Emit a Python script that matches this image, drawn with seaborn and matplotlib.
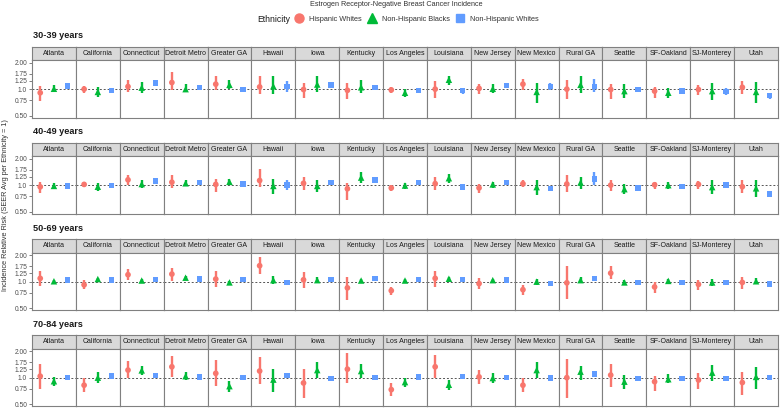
import numpy as np
import pandas as pd
import matplotlib
matplotlib.use("Agg")
import matplotlib.pyplot as plt
from matplotlib.lines import Line2D
import seaborn as sns

# ─────────────────────────────────────────────
# Data (relative risk, with 95% CI)
# ─────────────────────────────────────────────

registries = ["Atlanta", "California", "Connecticut", "Detroit Metro", "Greater GA",
              "Hawaii", "Iowa", "Kentucky", "Los Angeles", "Louisiana", "New Jersey",
              "New Mexico", "Rural GA", "Seattle", "SF-Oakland", "SJ-Monterey", "Utah"]
age_groups = ["30-39 years", "40-49 years", "50-69 years", "70-84 years"]
ethnicities = ["Hispanic Whites", "Non-Hispanic Blacks", "Non-Hispanic Whites"]

y_ticks = [0.5, 0.75, 1.0, 1.25, 1.5, 2.0]
y_tick_labels = ["0.50", "0.75", "1.0", "1.25", "1.75", "2.00"]

# 30-39 years
hw_30_est = [0.91, 1.00, 1.07, 1.19, 1.14, 1.06, 0.99, 0.97, 0.98, 1.00, 1.02, 1.14, 1.00, 0.99, 0.95, 0.99, 1.05]
hw_30_lo = [0.735, 0.91, 0.93, 0.97, 0.97, 0.87, 0.79, 0.77, 0.90, 0.79, 0.88, 0.99, 0.77, 0.78, 0.79, 0.86, 0.89]
hw_30_hi = [1.08, 1.10, 1.28, 1.57, 1.40, 1.40, 1.18, 1.18, 1.06, 1.25, 1.13, 1.31, 1.28, 1.13, 1.06, 1.11, 1.25]
nhb_30_est = [1.01, 0.93, 1.04, 1.00, 1.12, 1.08, 1.13, 1.05, 0.91, 1.28, 1.01, 0.93, 1.12, 0.95, 0.91, 0.95, 0.93]
nhb_30_lo = [0.93, 0.82, 0.91, 0.93, 1.00, 0.89, 0.93, 0.90, 0.82, 1.12, 0.91, 0.70, 0.90, 0.80, 0.79, 0.75, 0.70]
nhb_30_hi = [1.12, 1.06, 1.20, 1.15, 1.26, 1.42, 1.40, 1.28, 1.00, 1.42, 1.13, 1.18, 1.42, 1.13, 1.03, 1.16, 1.20]
nhw_30_est = [1.09, 0.96, 1.17, 1.05, 0.99, 1.07, 1.11, 1.05, 0.97, 0.97, 1.10, 1.08, 1.08, 0.99, 0.95, 0.94, 0.84]
nhw_30_lo = [1.01, 0.91, 1.10, 0.99, 0.93, 0.94, 1.04, 0.99, 0.91, 0.89, 1.02, 0.99, 0.92, 0.94, 0.89, 0.86, 0.78]
nhw_30_hi = [1.18, 1.02, 1.24, 1.12, 1.05, 1.23, 1.19, 1.12, 1.04, 1.04, 1.18, 1.18, 1.32, 1.05, 1.02, 1.04, 0.91]

# 40-49 years
hw_40_est = [0.956, 1.02, 1.15, 1.08, 1.02, 1.13, 1.05, 0.91, 0.93, 1.04, 0.93, 1.04, 1.03, 1.00, 1.01, 1.02, 0.96]
hw_40_lo = [0.81, 0.95, 1.01, 0.94, 0.84, 0.96, 0.87, 0.67, 0.85, 0.87, 0.82, 0.95, 0.84, 0.86, 0.90, 0.91, 0.82]
hw_40_hi = [1.10, 1.10, 1.32, 1.30, 1.18, 1.54, 1.24, 1.07, 1.00, 1.24, 1.03, 1.13, 1.32, 1.15, 1.10, 1.12, 1.13]
nhb_40_est = [0.98, 0.96, 1.03, 1.05, 1.09, 0.98, 0.98, 1.22, 0.99, 1.20, 1.02, 0.95, 1.07, 0.90, 1.00, 0.95, 0.92]
nhb_40_lo = [0.90, 0.86, 0.92, 0.98, 1.00, 0.79, 0.83, 1.05, 0.91, 1.07, 0.94, 0.77, 0.90, 0.79, 0.90, 0.79, 0.74]
nhb_40_hi = [1.07, 1.05, 1.15, 1.15, 1.18, 1.17, 1.15, 1.40, 1.07, 1.34, 1.10, 1.13, 1.24, 1.03, 1.10, 1.13, 1.15]
nhw_40_est = [0.98, 0.99, 1.11, 1.07, 1.03, 1.00, 1.08, 1.14, 1.08, 0.95, 1.08, 0.91, 1.18, 0.93, 0.97, 1.00, 0.79]
nhw_40_lo = [0.95, 0.96, 1.08, 1.04, 1.00, 0.88, 1.05, 1.11, 1.05, 0.91, 1.05, 0.86, 1.01, 0.90, 0.94, 0.96, 0.75]
nhw_40_hi = [1.01, 1.02, 1.14, 1.10, 1.06, 1.15, 1.11, 1.17, 1.11, 0.99, 1.11, 0.96, 1.43, 0.96, 1.00, 1.04, 0.83]

# 50-69 years
hw_50_est = [1.09, 0.92, 1.20, 1.22, 1.07, 1.52, 1.05, 0.85, 0.79, 1.09, 0.95, 0.81, 0.97, 1.25, 0.87, 0.93, 0.98]
hw_50_lo = [0.90, 0.83, 1.05, 1.03, 0.87, 1.21, 0.84, 0.62, 0.71, 0.88, 0.83, 0.71, 0.63, 1.07, 0.75, 0.81, 0.83]
hw_50_hi = [1.33, 1.05, 1.39, 1.45, 1.33, 1.90, 1.30, 1.14, 0.87, 1.33, 1.09, 0.92, 1.50, 1.50, 1.00, 1.05, 1.14]
nhb_50_est = [1.01, 1.07, 1.03, 1.11, 0.98, 1.04, 1.04, 1.03, 1.03, 1.08, 1.04, 1.00, 1.04, 0.98, 1.02, 0.98, 1.01]
nhb_50_lo = [0.98, 1.03, 0.99, 1.07, 0.94, 0.93, 0.96, 0.98, 0.99, 1.03, 1.00, 0.92, 0.96, 0.91, 0.98, 0.90, 0.93]
nhb_50_hi = [1.05, 1.11, 1.07, 1.15, 1.02, 1.15, 1.12, 1.08, 1.07, 1.13, 1.08, 1.08, 1.13, 1.05, 1.06, 1.06, 1.09]
nhw_50_est = [1.04, 1.04, 1.05, 1.07, 1.05, 0.98, 1.06, 1.09, 1.06, 1.05, 1.04, 0.95, 1.09, 0.98, 0.97, 0.97, 0.94]
nhw_50_lo = [1.01, 1.01, 1.02, 1.04, 1.02, 0.95, 1.03, 1.05, 1.03, 1.02, 1.01, 0.92, 1.02, 0.95, 0.94, 0.94, 0.91]
nhw_50_hi = [1.07, 1.07, 1.08, 1.10, 1.08, 1.01, 1.09, 1.13, 1.09, 1.08, 1.07, 0.98, 1.16, 1.01, 1.00, 1.00, 0.97]

# 70-84 years
hw_70_est = [1.04, 0.82, 1.22, 1.33, 1.12, 1.19, 0.87, 1.25, 0.73, 1.33, 1.02, 0.82, 1.00, 1.07, 0.90, 0.94, 0.88]
hw_70_lo = [0.75, 0.69, 0.98, 1.02, 0.80, 0.84, 0.58, 0.86, 0.61, 1.00, 0.84, 0.68, 0.58, 0.78, 0.71, 0.75, 0.63]
hw_70_hi = [1.43, 0.98, 1.55, 1.77, 1.59, 1.74, 1.25, 1.90, 0.86, 1.81, 1.22, 0.98, 1.63, 1.42, 1.05, 1.12, 1.15]
nhb_70_est = [0.91, 1.00, 1.21, 1.04, 0.80, 0.95, 1.22, 1.19, 0.89, 0.83, 0.99, 1.22, 1.17, 0.90, 0.96, 1.14, 1.02]
nhb_70_lo = [0.81, 0.87, 1.08, 0.94, 0.69, 0.69, 0.99, 1.00, 0.78, 0.72, 0.87, 0.98, 0.95, 0.75, 0.86, 0.92, 0.75]
nhb_70_hi = [1.02, 1.17, 1.36, 1.17, 0.92, 1.25, 1.49, 1.42, 0.98, 0.94, 1.12, 1.49, 1.36, 1.07, 1.09, 1.39, 1.33]
nhw_70_est = [1.00, 1.04, 1.05, 1.02, 1.00, 1.05, 0.98, 1.01, 1.02, 1.03, 1.01, 0.99, 1.10, 0.98, 0.98, 0.98, 1.00]
nhw_70_lo = [0.97, 1.01, 1.02, 0.99, 0.97, 1.02, 0.95, 0.98, 0.99, 1.00, 0.98, 0.96, 1.03, 0.95, 0.95, 0.95, 0.97]
nhw_70_hi = [1.03, 1.07, 1.08, 1.05, 1.03, 1.08, 1.01, 1.04, 1.05, 1.06, 1.04, 1.02, 1.20, 1.01, 1.01, 1.01, 1.03]

series = {
    ("30-39 years", "Hispanic Whites"): (hw_30_est, hw_30_lo, hw_30_hi),
    ("30-39 years", "Non-Hispanic Blacks"): (nhb_30_est, nhb_30_lo, nhb_30_hi),
    ("30-39 years", "Non-Hispanic Whites"): (nhw_30_est, nhw_30_lo, nhw_30_hi),
    ("40-49 years", "Hispanic Whites"): (hw_40_est, hw_40_lo, hw_40_hi),
    ("40-49 years", "Non-Hispanic Blacks"): (nhb_40_est, nhb_40_lo, nhb_40_hi),
    ("40-49 years", "Non-Hispanic Whites"): (nhw_40_est, nhw_40_lo, nhw_40_hi),
    ("50-69 years", "Hispanic Whites"): (hw_50_est, hw_50_lo, hw_50_hi),
    ("50-69 years", "Non-Hispanic Blacks"): (nhb_50_est, nhb_50_lo, nhb_50_hi),
    ("50-69 years", "Non-Hispanic Whites"): (nhw_50_est, nhw_50_lo, nhw_50_hi),
    ("70-84 years", "Hispanic Whites"): (hw_70_est, hw_70_lo, hw_70_hi),
    ("70-84 years", "Non-Hispanic Blacks"): (nhb_70_est, nhb_70_lo, nhb_70_hi),
    ("70-84 years", "Non-Hispanic Whites"): (nhw_70_est, nhw_70_lo, nhw_70_hi),
}

rows = []
for (age, eth), (est, lo, hi) in series.items():
    for reg, e, l, h in zip(registries, est, lo, hi):
        rows.append({"age": age, "eth": eth, "registry": reg, "est": e, "lo": l, "hi": h})
df = pd.DataFrame(rows)
df["xpos"] = df["eth"].map({e: i + 1 for i, e in enumerate(ethnicities)})

palette = {"Hispanic Whites": "#F8766D", "Non-Hispanic Blacks": "#00BA38",
           "Non-Hispanic Whites": "#619CFF"}
markers = {"Hispanic Whites": "o", "Non-Hispanic Blacks": "^", "Non-Hispanic Whites": "s"}
sizes = {"Hispanic Whites": 17, "Non-Hispanic Blacks": 22, "Non-Hispanic Whites": 15}
legend_ms = {"Hispanic Whites": 6.5, "Non-Hispanic Blacks": 7.5, "Non-Hispanic Whites": 6.2}

# ─────────────────────────────────────────────
# Layout
# ─────────────────────────────────────────────

sns.set_theme(style="white")
plt.rcParams["font.family"] = ["Liberation Sans", "DejaVu Sans"]

W, H = 780, 408
fig = plt.figure(figsize=(W / 100, H / 100), dpi=100)

left_px, right_px = 32, 778
pw = (right_px - left_px) / len(registries)
strip_tops = [46.5, 142.5, 239, 335]
strip_h, panel_h = 13.5, 57.5
border = "#808080"


def frac(x, y, w, h):
    return [x / W, 1 - (y + h) / H, w / W, h / H]


for r, age in enumerate(age_groups):
    top = strip_tops[r]
    fig.text(33 / W, 1 - (top - 10.5) / H, age, fontsize=6.6, fontweight="bold",
             ha="left", va="center", color="#1a1a1a")
    for c, reg in enumerate(registries):
        x0 = left_px + c * pw

        # strip
        sax = fig.add_axes(frac(x0, top, pw, strip_h))
        sax.set_facecolor("#D9D9D9")
        sax.set_xticks([]); sax.set_yticks([])
        for sp in sax.spines.values():
            sp.set_color(border); sp.set_linewidth(0.8)
        sax.text(0.5, 0.5, reg, fontsize=5, ha="center", va="center",
                 color="#1a1a1a", transform=sax.transAxes)

        # panel
        ax = fig.add_axes(frac(x0, top + strip_h, pw, panel_h))
        sub = df[(df["age"] == age) & (df["registry"] == reg)]
        ax.axhline(1.0, color="#555555", lw=0.7, ls=(0, (2, 2)), zorder=1)
        ax.vlines(sub["xpos"], sub["lo"], sub["hi"],
                  colors=[palette[e] for e in sub["eth"]], lw=1.7, zorder=2)
        sns.scatterplot(data=sub, x="xpos", y="est", hue="eth", style="eth",
                        size="eth", sizes=sizes, palette=palette, markers=markers,
                        hue_order=ethnicities, style_order=ethnicities,
                        linewidth=0, legend=False, ax=ax, zorder=3)
        ax.set_yscale("log")
        ax.set_xlim(0.4, 3.6)
        ax.set_ylim(0.475, 2.15)
        ax.set_xticks([])
        ax.set_yticks(y_ticks)
        ax.minorticks_off()
        ax.set_xlabel(""); ax.set_ylabel("")
        if c == 0:
            ax.set_yticklabels(y_tick_labels)
            ax.tick_params(axis="y", labelsize=4.8, colors="#4D4D4D", length=2,
                           width=0.5, pad=1.5, left=True)
        else:
            ax.set_yticklabels([])
            ax.tick_params(axis="y", length=0)
        for sp in ax.spines.values():
            sp.set_color(border); sp.set_linewidth(0.8)

fig.text(5.5 / W, 1 - 205 / H, "Incidence Relative Risk (SEER Avg per Ethnicity = 1)",
         rotation=90, fontsize=5.3, ha="center", va="center", color="#333333")

fig.text(396 / W, 1 - 5 / H, "Estrogen Receptor-Negative Breast Cancer Incidence",
         fontsize=5.2, ha="center", va="center", color="#333333")

fig.text(257 / W, 1 - 19 / H, "Ethnicity", fontsize=6.2, ha="left", va="center",
         color="#1a1a1a")
handles = [Line2D([], [], ls="", marker=markers[e], color=palette[e],
                  markersize=legend_ms[e]) for e in ethnicities]
fig.legend(handles, ethnicities, loc="center left", bbox_to_anchor=(295.5 / W, 1 - 19 / H),
           ncol=3, frameon=False, fontsize=5.3, handlelength=1.0, handletextpad=0.85,
           columnspacing=0.9, borderaxespad=0, borderpad=0, labelcolor="#333333")

fig.savefig("out.png", dpi=100)
plt.close(fig)
